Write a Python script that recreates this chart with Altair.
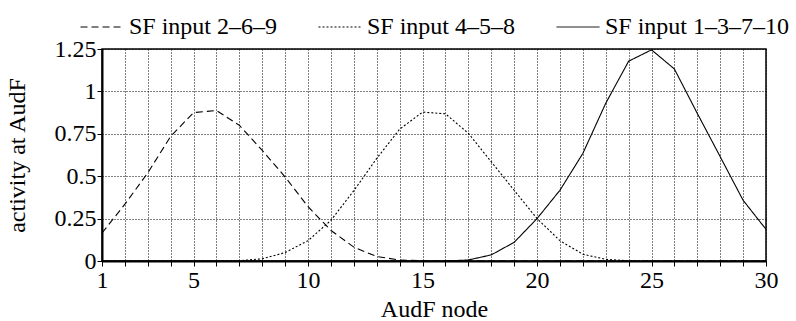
import altair as alt
import pandas as pd

nodes = list(range(1, 31))
series_names = ["SF input 2–6–9", "SF input 4–5–8", "SF input 1–3–7–10"]

s_269 = [0.165, 0.335, 0.52, 0.735, 0.875, 0.887, 0.80, 0.652, 0.495, 0.32, 0.18, 0.082,
         0.026, 0.006, 0.001, 0, 0, 0, 0, 0, 0, 0, 0, 0, 0, 0, 0, 0, 0, 0]
s_458 = [0, 0, 0, 0, 0, 0, 0.002, 0.013, 0.05, 0.12, 0.24, 0.415, 0.605, 0.777, 0.878,
         0.868, 0.753, 0.585, 0.417, 0.25, 0.12, 0.04, 0.01, 0.001, 0, 0, 0, 0, 0, 0]
s_13710 = [0, 0, 0, 0, 0, 0, 0, 0, 0, 0, 0, 0, 0, 0, 0, 0, 0.006, 0.036, 0.11, 0.25,
           0.417, 0.634, 0.93, 1.178, 1.245, 1.132, 0.87, 0.615, 0.358, 0.187]
y_ticks = [0, 0.25, 0.5, 0.75, 1, 1.25]

rows = []
for name, vals in zip(series_names, [s_269, s_458, s_13710]):
    for n, v in zip(nodes, vals):
        rows.append({"node": n, "value": v, "series": name})
df = pd.DataFrame(rows)

FONT = "Liberation Serif"
FS = 24

chart = alt.Chart(df).mark_line(color="black", strokeWidth=1.1).encode(
    x=alt.X("node:Q",
            scale=alt.Scale(domain=[1, 30], nice=False, zero=False),
            axis=alt.Axis(title="AudF node", values=nodes,
                          labelExpr="datum.value == 1 || datum.value % 5 == 0 ? datum.label : ''",
                          labelOverlap=False, labelFlush=False)),
    y=alt.Y("value:Q",
            scale=alt.Scale(domain=[0, 1.25], nice=False),
            axis=alt.Axis(title="activity at AudF", values=y_ticks,
                          labelExpr="'' + datum.value")),
    strokeDash=alt.StrokeDash("series:N",
                              scale=alt.Scale(domain=series_names,
                                              range=[[7, 4], [2, 2], [1, 0]]),
                              legend=alt.Legend(title=None, orient="none", direction="horizontal",
                                                columns=3, legendX=-22, legendY=-44,
                                                gridAlign="all",
                                                symbolType="stroke", symbolSize=1849,
                                                symbolStrokeColor="black", symbolStrokeWidth=1,
                                                labelOffset=5, columnPadding=2, padding=0,
                                                labelFont=FONT, labelFontSize=FS,
                                                labelColor="black", labelLimit=400)),
    order="node:Q",
).properties(
    width=664, height=212,
    autosize=alt.AutoSizeParams(type="none"),
    padding={"left": 102, "top": 49, "right": 30, "bottom": 60},
).configure_view(
    stroke="black", strokeWidth=1.5
).configure_axis(
    labelFont=FONT, labelFontSize=FS, labelColor="black",
    titleFont=FONT, titleFontSize=FS, titleColor="black", titleFontWeight="normal",
    domainColor="black", domainWidth=2,
    tickColor="black", tickSize=5, tickWidth=1,
    grid=True, gridColor="black", gridDash=[1, 2], gridWidth=1, gridOpacity=1,
).configure_axisX(
    labelPadding=2, titlePadding=5
).configure_axisY(
    labelPadding=1, titlePadding=25
)

chart.save("out.html", embed_options={"renderer": "svg", "actions": False})
